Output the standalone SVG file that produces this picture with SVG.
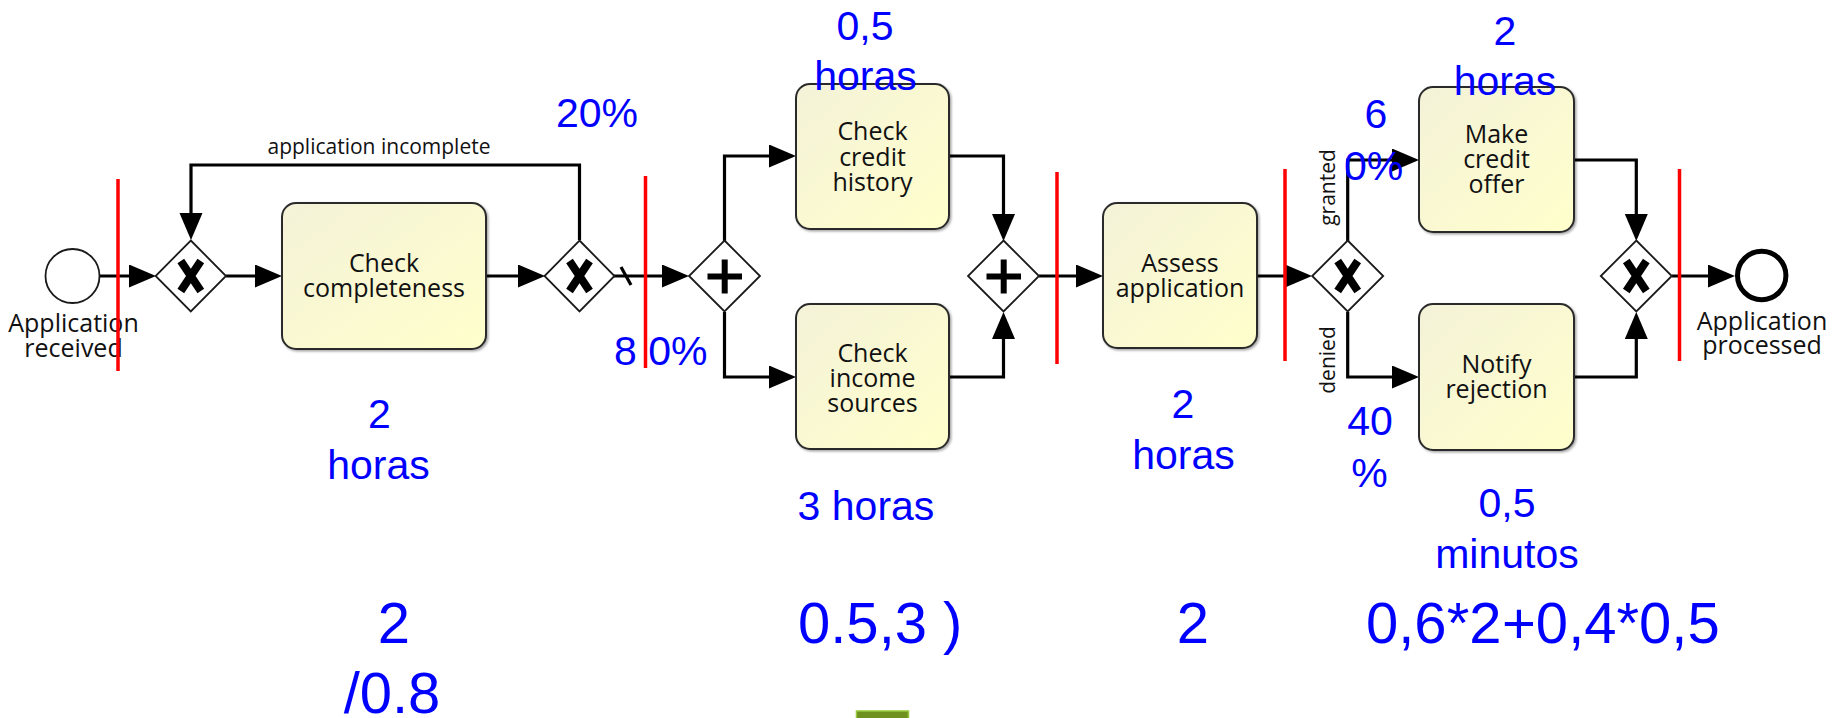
<svg xmlns="http://www.w3.org/2000/svg" width="1841" height="718" viewBox="0 0 1841 718">
  <defs>
    <linearGradient id="taskFill" x1="0" y1="0" x2="1" y2="1">
      <stop offset="0" stop-color="#f4f2d8"/>
      <stop offset="1" stop-color="#ffffcc"/>
    </linearGradient>
    <filter id="shadow" x="-5%" y="-5%" width="115%" height="115%">
      <feDropShadow dx="1.5" dy="1.5" stdDeviation="1" flood-color="#000" flood-opacity="0.35"/>
    </filter>
    <marker id="arrow" markerWidth="28" markerHeight="24" refX="21" refY="11.5" orient="auto" markerUnits="userSpaceOnUse">
      <path d="M0,0 L27,11.5 L0,23 z" fill="#000"/>
    </marker>
    <style>
      .flow { fill: none; stroke: #000; stroke-width: 3.2; marker-end: url(#arrow); }
      .plain { fill: none; stroke: #000; stroke-width: 3.2; }
      .task { fill: url(#taskFill); stroke: #2b2b2b; stroke-width: 2; filter: url(#shadow); }
      .gw { fill: #fff; stroke: #1a1a1a; stroke-width: 1.8; }
      .xmark { stroke: #000; stroke-width: 8; fill: none; }
      .pmark { stroke: #000; stroke-width: 6; fill: none; }
      .ttext { font-family: "Open Sans", "Noto Sans", sans-serif; font-size: 25px; fill: #111; text-anchor: middle; }
      .small { font-family: "Open Sans", "Noto Sans", sans-serif; font-size: 21px; fill: #111; text-anchor: middle; }
      .blue { font-family: "Liberation Sans", Arial, sans-serif; font-size: 41px; fill: #0000ff; text-anchor: middle; }
      .big { font-family: "Liberation Sans", Arial, sans-serif; font-size: 58px; fill: #0000ff; text-anchor: middle; }
      .left { text-anchor: start; }
      .mark { stroke: #ff0000; stroke-width: 3.5; }
    </style>
  </defs>

  <rect width="1841" height="718" fill="#fff"/>

  <!-- sequence flows -->
  <g id="connectors">
    <path class="flow" d="M100,276 H150"/>
    <path class="flow" d="M226,276 H276"/>
    <path class="flow" d="M486,276 H539"/>
    <path class="flow" d="M614,276 H683"/>
    <line class="plain" x1="621" y1="267" x2="631" y2="285" stroke-width="2"/>
    <path class="flow" d="M579.5,240 V165 H191 V234"/>
    <path class="flow" d="M724.5,241 V156 H790"/>
    <path class="flow" d="M724.5,312 V377 H790"/>
    <path class="flow" d="M949,156 H1003.5 V235"/>
    <path class="flow" d="M949,377 H1003.5 V318"/>
    <path class="flow" d="M1039,276 H1097"/>
    <path class="flow" d="M1257,276 H1306"/>
    <path class="flow" d="M1347.7,241 V160 H1413"/>
    <path class="flow" d="M1347.7,312 V377 H1413"/>
    <path class="flow" d="M1574,160 H1636.3 V235"/>
    <path class="flow" d="M1574,377 H1636.3 V318"/>
    <path class="flow" d="M1672,276 H1729"/>
    <text class="small" x="379" y="154">application incomplete</text>
    <text class="small" transform="translate(1335,187.5) rotate(-90)">granted</text>
    <text class="small" transform="translate(1334.5,360) rotate(-90)">denied</text>
  </g>

  <!-- events -->
  <g id="start">
    <circle cx="72.5" cy="276" r="27" fill="#fff" stroke="#1a1a1a" stroke-width="1.8"/>
    <text class="ttext" x="73.5" y="331.5">Application</text>
    <text class="ttext" x="73.5" y="356.5">received</text>
  </g>
  <g id="end">
    <circle cx="1761.7" cy="275.5" r="24.2" fill="#fff" stroke="#000" stroke-width="5"/>
    <text class="ttext" x="1762" y="330">Application</text>
    <text class="ttext" x="1762" y="353.5">processed</text>
  </g>

  <!-- gateways -->
  <g id="gw-merge-loop">
    <polygon class="gw" points="190.8,240.5 226,276 190.8,311.5 155.6,276"/>
    <path class="xmark" d="M180.8,261 L200.8,291 M200.8,261 L180.8,291"/>
  </g>
  <g id="gw-complete">
    <polygon class="gw" points="579.5,240.5 614.5,276 579.5,311.5 544.5,276"/>
    <path class="xmark" d="M569.5,261 L589.5,291 M589.5,261 L569.5,291"/>
  </g>
  <g id="gw-split">
    <polygon class="gw" points="724.5,240.5 760,276 724.5,311.5 689,276"/>
    <path class="pmark" d="M707.5,276.5 H742 M724.7,259.5 V293.5"/>
  </g>
  <g id="gw-join">
    <polygon class="gw" points="1003.5,240.5 1039,276 1003.5,311.5 968,276"/>
    <path class="pmark" d="M986.5,276.5 H1021 M1003.7,259.5 V293.5"/>
  </g>
  <g id="gw-decision">
    <polygon class="gw" points="1347.7,240.5 1383.2,276 1347.7,311.5 1312.2,276"/>
    <path class="xmark" d="M1337.7,261 L1357.7,291 M1357.7,261 L1337.7,291"/>
  </g>
  <g id="gw-merge-end">
    <polygon class="gw" points="1636.3,240.5 1671.8,276 1636.3,311.5 1600.8,276"/>
    <path class="xmark" d="M1626.3,261 L1646.3,291 M1646.3,261 L1626.3,291"/>
  </g>

  <!-- tasks -->
  <g id="task-check-completeness">
    <rect class="task" x="282" y="203" width="204" height="146" rx="14"/>
    <text class="ttext" x="384" y="271.5">Check</text>
    <text class="ttext" x="384" y="296.5">completeness</text>
  </g>
  <g id="task-check-credit-history">
    <rect class="task" x="796" y="84" width="153" height="145" rx="14"/>
    <text class="ttext" x="872.5" y="140">Check</text>
    <text class="ttext" x="872.5" y="165.5">credit</text>
    <text class="ttext" x="872.5" y="191">history</text>
  </g>
  <g id="task-check-income-sources">
    <rect class="task" x="796" y="304" width="153" height="145" rx="14"/>
    <text class="ttext" x="872.5" y="361.5">Check</text>
    <text class="ttext" x="872.5" y="386.5">income</text>
    <text class="ttext" x="872.5" y="411.5">sources</text>
  </g>
  <g id="task-assess-application">
    <rect class="task" x="1103" y="203" width="154" height="145" rx="14"/>
    <text class="ttext" x="1180" y="271.5">Assess</text>
    <text class="ttext" x="1180" y="296.5">application</text>
  </g>
  <g id="task-make-credit-offer">
    <rect class="task" x="1419" y="87" width="155" height="145" rx="14"/>
    <text class="ttext" x="1496.5" y="143">Make</text>
    <text class="ttext" x="1496.5" y="168">credit</text>
    <text class="ttext" x="1496.5" y="193">offer</text>
  </g>
  <g id="task-notify-rejection">
    <rect class="task" x="1419" y="304" width="155" height="146" rx="14"/>
    <text class="ttext" x="1496.5" y="373">Notify</text>
    <text class="ttext" x="1496.5" y="398">rejection</text>
  </g>

  <!-- stage boundaries -->
  <g id="boundaries">
    <line class="mark" x1="118" y1="179" x2="118" y2="371"/>
    <line class="mark" x1="645.5" y1="176" x2="645.5" y2="368"/>
    <line class="mark" x1="1057" y1="172" x2="1057" y2="364"/>
    <line class="mark" x1="1285" y1="169" x2="1285" y2="361"/>
    <line class="mark" x1="1679.5" y1="169" x2="1679.5" y2="361"/>
  </g>

  <!-- annotations: durations and probabilities -->
  <g id="annotations">
    <text class="blue" x="865" y="40">0,5</text>
    <text class="blue" x="865.5" y="90">horas</text>
    <text class="blue" x="597" y="127">20%</text>
    <text class="blue left" x="614" y="365">8 0%</text>
    <text class="blue" x="379.5" y="428">2</text>
    <text class="blue" x="378.5" y="479">horas</text>
    <text class="blue" x="866" y="520">3 horas</text>
    <text class="blue" x="1183" y="418">2</text>
    <text class="blue" x="1183.5" y="469">horas</text>
    <text class="blue" x="1376" y="128">6</text>
    <text class="blue left" x="1344" y="180">0%</text>
    <text class="blue" x="1505" y="45">2</text>
    <text class="blue" x="1505" y="95">horas</text>
    <text class="blue" x="1370" y="435">40</text>
    <text class="blue" x="1369.5" y="486.5">%</text>
    <text class="blue" x="1507" y="517">0,5</text>
    <text class="blue" x="1507" y="568">minutos</text>
  </g>
  <g id="totals">
    <text class="big" x="394" y="643">2</text>
    <text class="big" x="392" y="713">/0.8</text>
    <text class="big left" x="798" y="643">0.5,3 )</text>
    <text class="big" x="1193" y="643">2</text>
    <text class="big left" x="1366" y="643">0,6*2</text>
    <text class="big left" x="1502" y="643">+0,4*0,5</text>
  </g>
  <rect x="856.5" y="711" width="52" height="9" fill="#6f9120" stroke="#96c83a" stroke-width="1.5"/>
</svg>
